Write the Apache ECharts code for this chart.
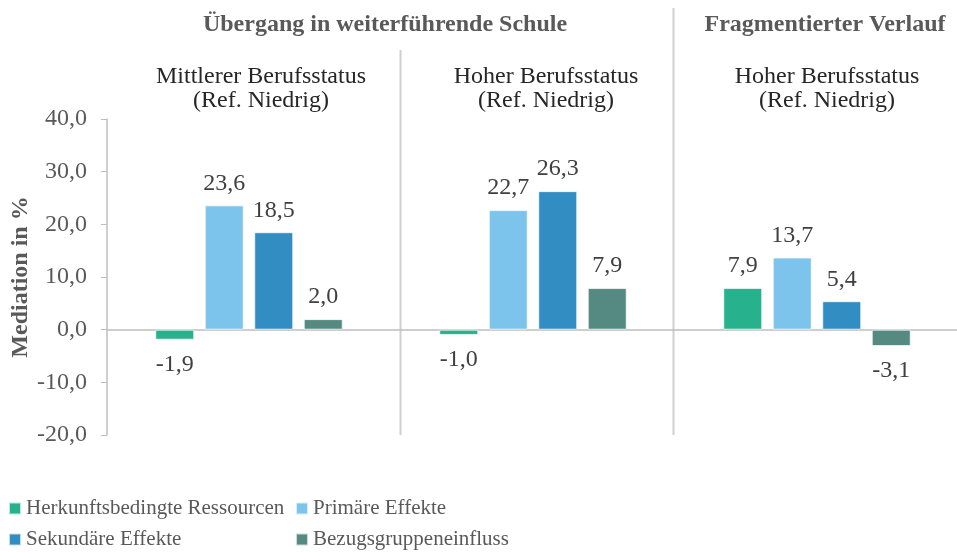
<!DOCTYPE html>
<html>
<head>
<meta charset="utf-8">
<script src="https://cdn.jsdelivr.net/npm/echarts@6/dist/echarts.min.js"></script>
<style>
  html, body { margin: 0; padding: 0; background: #fff; }
  #chart { width: 957px; height: 552px; }
</style>
</head>
<body>
<div id="chart"></div>
<script>
const categories = ['Mittlerer Berufsstatus\n(Ref. Niedrig)', 'Hoher Berufsstatus\n(Ref. Niedrig)', 'Hoher Berufsstatus\n(Ref. Niedrig)']
const groupTitles = ['Übergang in weiterführende Schule', 'Fragmentierter Verlauf']
const seriesNames = ['Herkunftsbedingte Ressourcen', 'Primäre Effekte', 'Sekundäre Effekte', 'Bezugsgruppeneinfluss']
const herkunft = [-1.9, -1.0, 7.9]
const primaer = [23.6, 22.7, 13.7]
const sekundaer = [18.5, 26.3, 5.4]
const bezug = [2.0, 7.9, -3.1]
const colors = ['#27b18c', '#7dc4ec', '#328dc2', '#548a81']

const serif = '"Liberation Serif", "Times New Roman", serif'

function fmt(v) {
    return v.toFixed(1).replace('.', ',')
}

function makeSeries(name, values, color) {
    return {
        name: name,
        type: 'bar',
        barGap: '27%',
        barCategoryGap: '34%',
        itemStyle: { color: color, borderColor: 'rgba(255,255,255,0.7)', borderWidth: 1 },
        label: {
            show: true,
            fontFamily: serif,
            fontSize: 24,
            color: '#404040',
            formatter: function (p) { return fmt(p.value) }
        },
        data: values.map(function (v) {
            return {
                value: v,
                label: v < 0 ? { position: 'bottom', distance: 13 } : { position: 'top', distance: 10 }
            }
        })
    }
}

var chart = echarts.init(document.getElementById('chart'))

// text boxes above the plot, placed like in the original
var subX = [261, 546, 827]
var graphics = []
categories.forEach(function (c, i) {
    graphics.push({
        type: 'text',
        x: subX[i], y: 89,
        style: {
            text: c, fontFamily: serif, fontSize: 24, fill: '#262626',
            align: 'center', verticalAlign: 'middle', lineHeight: 24
        }
    })
})
graphics.push({
    type: 'text', x: 385, y: 25,
    style: { text: groupTitles[0], fontFamily: serif, fontSize: 24, fontWeight: 'bold', fill: '#595959', align: 'center', verticalAlign: 'middle' }
})
graphics.push({
    type: 'text', x: 825, y: 25,
    style: { text: groupTitles[1], fontFamily: serif, fontSize: 24, fontWeight: 'bold', fill: '#595959', align: 'center', verticalAlign: 'middle' }
})
graphics.push({
    type: 'line', shape: { x1: 400.5, y1: 50, x2: 400.5, y2: 435 },
    style: { stroke: '#cfcfcf', lineWidth: 2 }
})
graphics.push({
    type: 'line', shape: { x1: 673.5, y1: 8, x2: 673.5, y2: 435 },
    style: { stroke: '#cfcfcf', lineWidth: 2 }
})

var legendText = { fontFamily: serif, fontSize: 21, color: '#595959' }

var option = {
    animation: false,
    color: colors,
    grid: { left: 107, right: -2, top: 119, bottom: 117, outerBoundsMode: 'none', containLabel: false },
    legend: [
        {
            orient: 'vertical', left: 8, top: 498, padding: 0,
            itemWidth: 12, itemHeight: 12, itemGap: 10, icon: 'rect',
            textStyle: legendText,
            data: [seriesNames[0], seriesNames[2]]
        },
        {
            orient: 'vertical', left: 295, top: 498, padding: 0,
            itemWidth: 12, itemHeight: 12, itemGap: 10, icon: 'rect',
            textStyle: legendText,
            data: [seriesNames[1], seriesNames[3]]
        }
    ],
    xAxis: {
        type: 'category',
        data: categories,
        axisLine: { lineStyle: { color: '#bfbfbf', width: 1.5 } },
        axisTick: { show: false },
        axisLabel: { show: false }
    },
    yAxis: {
        type: 'value',
        min: -20,
        max: 40,
        interval: 10,
        name: 'Mediation in %',
        nameLocation: 'middle',
        nameGap: 74,
        nameMoveOverlap: false,
        nameTextStyle: { fontFamily: serif, fontSize: 24, fontWeight: 'bold', color: '#595959' },
        axisLine: { show: true, lineStyle: { color: '#bfbfbf', width: 1.5 } },
        axisTick: { show: true, length: 6, lineStyle: { color: '#bfbfbf' } },
        splitLine: { show: false },
        axisLabel: {
            fontFamily: serif, fontSize: 24, color: '#595959', margin: 20,
            formatter: function (v) { return fmt(v) }
        }
    },
    graphic: graphics,
    series: [
        makeSeries(seriesNames[0], herkunft, colors[0]),
        makeSeries(seriesNames[1], primaer, colors[1]),
        makeSeries(seriesNames[2], sekundaer, colors[2]),
        makeSeries(seriesNames[3], bezug, colors[3])
    ]
}

chart.setOption(option)
</script>
</body>
</html>
